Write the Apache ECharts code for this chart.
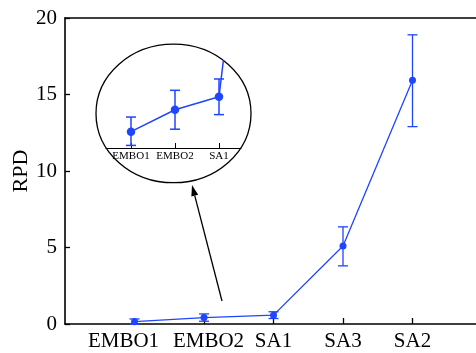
<!DOCTYPE html>
<html>
<head>
<meta charset="utf-8">
<script src="https://cdn.jsdelivr.net/npm/echarts@6/dist/echarts.min.js"></script>
<style>
  html, body { margin: 0; padding: 0; background: #fff; }
  #chart { width: 476px; height: 353px; }
</style>
</head>
<body>
<div id="chart"></div>
<script>
const categories = ["EMBO1", "EMBO2", "SA1", "SA3", "SA2"];
const rpd = [0.15, 0.42, 0.58, 5.1, 15.93];
const errLow = [-0.02, 0.18, 0.36, 3.8, 12.9];
const errHigh = [0.33, 0.66, 0.8, 6.35, 18.9];
const yTicks = [0, 5, 10, 15, 20];
const insetCats = ["EMBO1", "EMBO2", "SA1"];

const blue = "#1f45ff";
const font = "Liberation Serif";

const points = categories.map((c, i) => [i + 1, rpd[i]]);
const errors = categories.map((c, i) => [i + 1, errLow[i], errHigh[i]]);
const catPos = categories.map((c, i) => i + 1);

// the first two labels sit a little off their ticks in the original
const labelStyle = ["l", "r", "n", "n", "n"];

function errorBars(capHalf, lw) {
  return function(params, api) {
    const x = api.value(0);
    const lo = api.coord([x, api.value(1)]);
    const hi = api.coord([x, api.value(2)]);
    const st = { stroke: blue, lineWidth: lw };
    return {
      type: "group",
      children: [
        { type: "line", shape: { x1: lo[0], y1: lo[1], x2: hi[0], y2: hi[1] }, style: st },
        { type: "line", shape: { x1: lo[0] - capHalf, y1: lo[1], x2: lo[0] + capHalf, y2: lo[1] }, style: st },
        { type: "line", shape: { x1: hi[0] - capHalf, y1: hi[1], x2: hi[0] + capHalf, y2: hi[1] }, style: st }
      ]
    };
  };
}

// arrow from the low points up to the inset
const tail = [222, 301];
const tip = [192, 185];
const dx = tip[0] - tail[0], dy = tip[1] - tail[1];
const len = Math.sqrt(dx * dx + dy * dy);
const ux = dx / len, uy = dy / len;
const base = [tip[0] - 11 * ux, tip[1] - 11 * uy];
const nx = -uy, ny = ux;

const labelFont = { fontFamily: font, fontSize: 21, color: "#000" };

const chart = echarts.init(document.getElementById("chart"));
chart.setOption({
  animation: false,
  grid: [
    { left: 65, top: 18, right: -6, bottom: 29, outerBoundsMode: "none", containLabel: false },
    { left: 106, top: 61, width: 135, height: 87, outerBoundsMode: "none", containLabel: false }
  ],
  xAxis: [
    {
      gridIndex: 0, type: "value", min: 0, max: 6,
      splitLine: { show: false },
      axisLine: { lineStyle: { color: "#000", width: 1.6 } },
      axisTick: { inside: true, length: 6, customValues: catPos, lineStyle: { color: "#000", width: 1.3 } },
      axisLabel: {
        customValues: catPos,
        formatter: v => {
          const c = categories[v - 1];
          return c ? "{" + labelStyle[v - 1] + "|" + c + "}" : "";
        },
        ...labelFont,
        margin: 7,
        rich: {
          l: { ...labelFont, padding: [0, 22, 0, 0] },
          r: { ...labelFont, padding: [0, 0, 0, 9] },
          n: { ...labelFont }
        }
      }
    },
    {
      gridIndex: 0, type: "value", min: 0, max: 6, position: "top",
      splitLine: { show: false },
      axisLine: { show: true, onZero: false, lineStyle: { color: "#000", width: 1.6 } },
      axisTick: { show: false }, axisLabel: { show: false }
    },
    {
      gridIndex: 1, type: "value", min: 1 - 25 / 44, max: 3.5,
      splitLine: { show: false },
      axisLine: { onZero: false, lineStyle: { color: "#000", width: 1.2 } },
      axisTick: { inside: true, length: 5, customValues: [1, 2, 3], lineStyle: { color: "#000" } },
      axisLabel: {
        customValues: [1, 2, 3],
        formatter: v => insetCats[v - 1] || "",
        fontFamily: font, fontSize: 11, color: "#000", margin: 3
      }
    }
  ],
  yAxis: [
    {
      gridIndex: 0, type: "value", min: 0, max: 20, interval: 5,
      name: "RPD", nameLocation: "middle", nameGap: 32.5, nameMoveOverlap: false,
      nameTextStyle: { fontFamily: font, fontSize: 22, fontWeight: "normal", color: "#000" },
      splitLine: { show: false },
      axisLine: { lineStyle: { color: "#000", width: 1.6 } },
      axisTick: { inside: true, length: 5, lineStyle: { color: "#000", width: 1.3 } },
      axisLabel: {
        fontFamily: font, fontSize: 21, color: "#000", margin: 8,
        formatter: v => (yTicks.indexOf(v) >= 0 ? String(v) : "")
      }
    },
    {
      gridIndex: 1, type: "value", min: -0.052, max: 1.022, show: false
    }
  ],
  series: [
    {
      type: "line", xAxisIndex: 0, yAxisIndex: 0, data: points,
      symbol: "circle", symbolSize: 7,
      lineStyle: { color: blue, width: 1.3 }, itemStyle: { color: blue }, z: 3
    },
    {
      type: "custom", xAxisIndex: 0, yAxisIndex: 0, data: errors,
      renderItem: errorBars(5, 1.3), z: 2
    },
    {
      type: "line", xAxisIndex: 2, yAxisIndex: 1, data: points, clip: true,
      symbol: "circle", symbolSize: 8.5,
      lineStyle: { color: blue, width: 1.5 }, itemStyle: { color: blue }, z: 3
    },
    {
      type: "custom", xAxisIndex: 2, yAxisIndex: 1, data: errors, clip: true,
      renderItem: errorBars(5, 1.5), z: 2
    }
  ],
  graphic: [
    {
      type: "ellipse",
      shape: { cx: 173.5, cy: 113.4, rx: 77.5, ry: 69.3 },
      style: { fill: "none", stroke: "#000", lineWidth: 1.3 }
    },
    {
      type: "line",
      shape: { x1: tail[0], y1: tail[1], x2: base[0], y2: base[1] },
      style: { stroke: "#000", lineWidth: 1.3 }
    },
    {
      type: "polygon",
      shape: {
        points: [
          tip,
          [base[0] + 3.5 * nx, base[1] + 3.5 * ny],
          [base[0] - 3.5 * nx, base[1] - 3.5 * ny]
        ]
      },
      style: { fill: "#000" }
    }
  ]
});
</script>
</body>
</html>
